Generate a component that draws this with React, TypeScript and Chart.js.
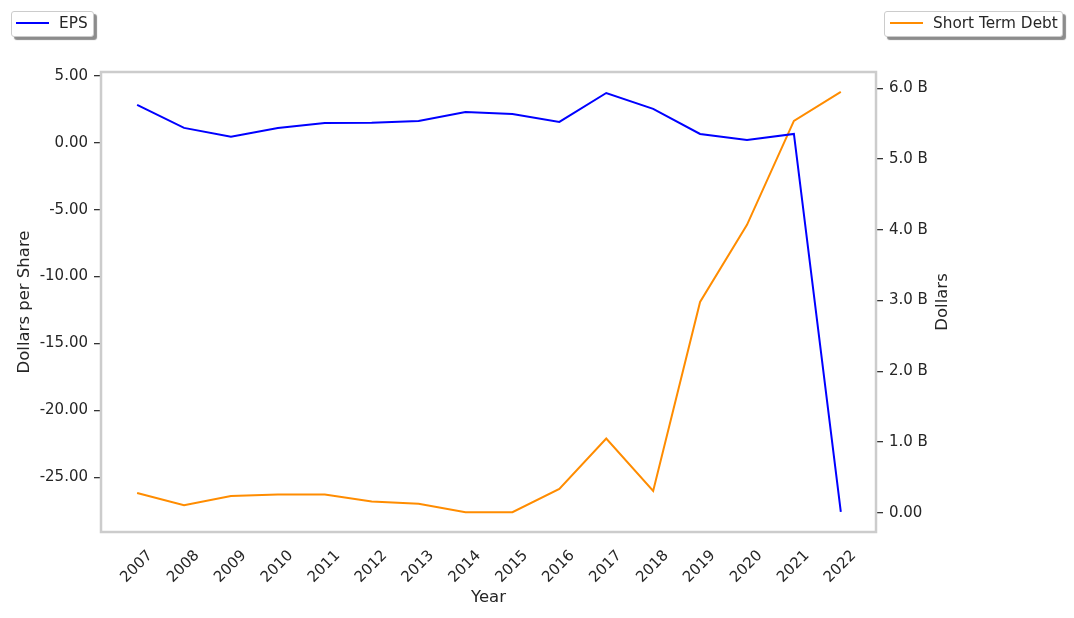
import React, { useEffect, useRef } from 'react';
import { Chart, registerables } from 'chart.js';

Chart.register(...registerables);

const years = [2007, 2008, 2009, 2010, 2011, 2012, 2013, 2014, 2015, 2016, 2017, 2018, 2019, 2020, 2021, 2022];
const eps = [2.84, 1.12, 0.45, 1.12, 1.49, 1.5, 1.64, 2.31, 2.16, 1.57, 3.73, 2.54, 0.67, 0.22, 0.67, -27.6];
const shortTermDebt = [0.28e9, 0.11e9, 0.24e9, 0.26e9, 0.26e9, 0.16e9, 0.13e9, 0.01e9, 0.01e9, 0.34e9, 1.05e9, 0.31e9, 2.98e9, 4.07e9, 5.54e9, 5.95e9];
const leftTicks = [5, 0, -5, -10, -15, -20, -25];
const rightTicks = [0, 1e9, 2e9, 3e9, 4e9, 5e9, 6e9];
const rightTitle = 'Dollars';

const FONT = 'DejaVu Sans';
const TEXT = '#262626';
const TICK_SIZE = 15;
const TITLE_SIZE = 16.5;

const framePlugin = {
  id: 'frame',
  afterDatasetsDraw(chart: any) {
    const { ctx, chartArea } = chart;
    ctx.save();
    ctx.strokeStyle = '#cccccc';
    ctx.lineWidth = 2.5;
    ctx.strokeRect(chartArea.left, chartArea.top, chartArea.right - chartArea.left, chartArea.bottom - chartArea.top);
    // right axis title, reading bottom-to-top
    ctx.fillStyle = TEXT;
    ctx.font = `${TITLE_SIZE}px "${FONT}"`;
    ctx.textAlign = 'center';
    ctx.textBaseline = 'middle';
    ctx.translate(chartArea.right + 67, (chartArea.top + chartArea.bottom) / 2);
    ctx.rotate(-Math.PI / 2);
    ctx.fillText(rightTitle, 0, 0);
    ctx.restore();
  },
};

export default function App() {
  const ref = useRef<HTMLCanvasElement | null>(null);
  useEffect(() => {
    document.body.style.margin = '0';
    const canvas = ref.current!;
    const chart = new Chart(canvas, {
      type: 'line',
      data: {
        datasets: [
          {
            label: 'EPS',
            data: years.map((y, i) => ({ x: y, y: eps[i] })),
            borderColor: '#0000ff',
            backgroundColor: '#0000ff',
            borderWidth: 2,
            pointRadius: 0,
            tension: 0,
            yAxisID: 'y',
          },
          {
            label: 'Short Term Debt',
            data: years.map((y, i) => ({ x: y, y: shortTermDebt[i] })),
            borderColor: '#ff8c00',
            backgroundColor: '#ff8c00',
            borderWidth: 2,
            pointRadius: 0,
            tension: 0,
            yAxisID: 'y1',
          },
        ],
      },
      options: {
        animation: false,
        responsive: false,
        devicePixelRatio: 1,
        layout: { padding: { left: 0, right: 0, top: 72, bottom: 0 } },
        plugins: { legend: { display: false }, tooltip: { enabled: false } },
        scales: {
          x: {
            type: 'linear',
            min: 2006.23,
            max: 2022.75,
            afterBuildTicks: (s: any) => { s.ticks = years.map((v) => ({ value: v })); },
            afterFit: (s: any) => { s.height = 86; },
            grid: { display: false },
            border: { display: false },
            ticks: {
              minRotation: 45,
              maxRotation: 45,
              color: TEXT,
              font: { family: FONT, size: TICK_SIZE },
              padding: 7,
              labelOffset: 13,
              callback: (v: any) => String(v),
            },
            title: { display: true, text: 'Year', color: TEXT, font: { family: FONT, size: TITLE_SIZE }, padding: { top: 0, bottom: 10 } },
          },
          y: {
            type: 'linear',
            position: 'left',
            min: -29.1,
            max: 5.3,
            afterBuildTicks: (s: any) => { s.ticks = leftTicks.map((v) => ({ value: v })); },
            afterFit: (s: any) => { s.width = 101; },
            grid: { display: true, drawOnChartArea: false, drawTicks: true, tickLength: 7, color: '#333333', lineWidth: 1.3 },
            border: { display: false },
            ticks: {
              color: TEXT,
              font: { family: FONT, size: TICK_SIZE },
              padding: 6,
              callback: (v: any) => Number(v).toFixed(2),
            },
            title: { display: true, text: 'Dollars per Share', color: TEXT, font: { family: FONT, size: TITLE_SIZE }, padding: { top: 15, bottom: 0 } },
          },
          y1: {
            type: 'linear',
            position: 'right',
            min: -0.27e9,
            max: 6.23e9,
            afterBuildTicks: (s: any) => { s.ticks = rightTicks.map((v) => ({ value: v })); },
            afterFit: (s: any) => { s.width = 198; },
            grid: { display: true, drawOnChartArea: false, drawTicks: true, tickLength: 7, color: '#333333', lineWidth: 1.3 },
            border: { display: false },
            ticks: {
              color: TEXT,
              font: { family: FONT, size: TICK_SIZE },
              padding: 6,
              callback: (v: any) => (Number(v) === 0 ? '0.00' : (Number(v) / 1e9).toFixed(1) + ' B'),
            },
          },
        },
      },
      plugins: [framePlugin],
    } as any);
    return () => chart.destroy();
  }, []);

  const boxStyle: React.CSSProperties = {
    position: 'absolute',
    top: 11,
    height: 26,
    boxSizing: 'border-box',
    border: '1px solid #cccccc',
    borderRadius: 3,
    background: '#ffffff',
    boxShadow: '3px 3px 1px #8c8c8c',
    fontFamily: FONT,
    fontSize: 15.3,
    color: TEXT,
  };

  return (
    <div style={{ position: 'absolute', left: 0, top: 0, width: 1074, height: 618, background: '#fff' }}>
      <canvas ref={ref} width={1074} height={618} style={{ width: 1074, height: 618, display: 'block' }} />
      <div style={{ ...boxStyle, left: 11, width: 83 }}>
        <div style={{ position: 'absolute', left: 4, top: 10, width: 33, height: 2, background: '#0000ff' }} />
        <div style={{ position: 'absolute', left: 47, top: 2, lineHeight: '18px' }}>EPS</div>
      </div>
      <div style={{ ...boxStyle, left: 884, width: 179 }}>
        <div style={{ position: 'absolute', left: 5, top: 10, width: 33, height: 2, background: '#ff8c00' }} />
        <div style={{ position: 'absolute', left: 48, top: 2, lineHeight: '18px', whiteSpace: 'nowrap' }}>Short Term Debt</div>
      </div>
    </div>
  );
}
